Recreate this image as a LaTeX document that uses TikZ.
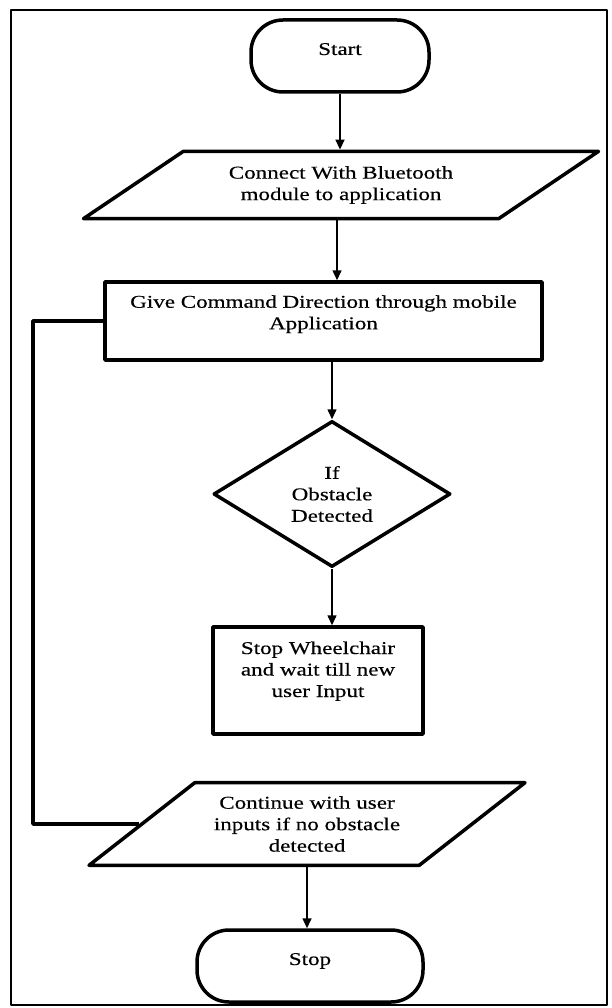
\documentclass[tikz,border=0pt]{standalone}
\usepackage{fontspec}
\setmainfont[FakeStretch=1.28,FakeBold=0.4]{Liberation Serif}
\usetikzlibrary{shapes.geometric,arrows.meta}

\begin{document}
\begin{tikzpicture}[x=1pt, y=-1pt, line join=round, >={Triangle[length=10pt,width=9pt]},
		font=\fontsize{18}{21.5}\selectfont,
		term/.style={draw, line width=3.5pt, rounded corners=32pt, minimum height=72pt, text depth=14pt},
		io/.style={draw, line width=3.5pt, trapezium, trapezium stretches body, align=center, inner xsep=0pt},
		proc/.style={draw, line width=3.5pt, align=center, inner sep=0pt},
		dec/.style={draw, line width=3.5pt, diamond, align=center, inner sep=0pt},
		flow/.style={->, line width=1.5pt}]
				
				\useasboundingbox (0,0) rectangle (611,1008);
				\draw[line width=2pt] (11,10) rectangle (607,1005);
				
				\node[term, minimum width=178pt] (start) at (340,56) {Start};
				\node[io, trapezium left angle=34, trapezium right angle=146, inner ysep=14.75pt, minimum width=515pt] (conn) at (341,185)
					{Connect With Bluetooth\\module to application};
				\node[proc, minimum width=437pt, minimum height=78pt, text depth=17.5pt] (give) at (323.5,321)
					{Give Command Direction through mobile\\Application};
				\node[dec, minimum width=237pt, minimum height=146pt] (obst) at (332,494) {If\\Obstacle\\Detected};
				\node[proc, minimum width=210pt, minimum height=107pt, text depth=22.5pt] (wait) at (318,680.5)
					{Stop Wheelchair\\and wait till new\\user Input};
				\node[io, trapezium left angle=38, trapezium right angle=142, inner ysep=13.5pt, minimum width=436pt] (cont) at (307,824)
					{Continue with user\\inputs if no obstacle\\detected};
				\node[term, minimum width=226pt] (stop) at (310,966) {Stop};
				\coordinate (bend) at (33,600);
				
				\draw[flow] (start.south) -- (start.south |- conn.north);
				\draw[flow] ([xshift=-4pt]conn.south) -- ([xshift=-4pt]conn.south |- give.north);
				\draw[flow] (obst.north |- give.south) -- (obst.north);
				\draw[flow] (obst.south) -- (obst.south |- wait.north);
				\draw[flow] (cont.south) -- (cont.south |- stop.north);
				\draw[line width=3.5pt] (give.west) -- (give.west -| bend) |- (cont.left side);
		\end{tikzpicture}
\end{document}
